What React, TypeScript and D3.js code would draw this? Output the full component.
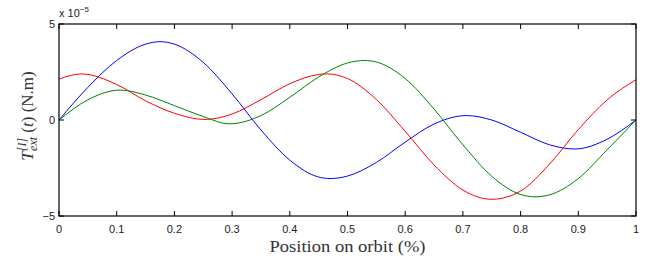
import React from "react";
import * as d3 from "d3";

const WIDTH = 653;
const HEIGHT = 263;
const MARGIN = { top: 24, right: 17, bottom: 47, left: 59 };

// values are in units of 1e-5 N.m
const blueX = [0, 0.05, 0.1, 0.15, 0.175, 0.2, 0.25, 0.3, 0.35, 0.4, 0.45, 0.47, 0.5, 0.55, 0.6, 0.65, 0.706, 0.75, 0.8, 0.85, 0.894, 0.95, 1];
const blueY = [0, 1.7, 3.1, 3.95, 4.08, 3.95, 3.0, 1.36, -0.52, -2.09, -2.97, -3.05, -2.92, -2.21, -1.15, -0.21, 0.23, 0.0, -0.64, -1.29, -1.51, -1.0, 0];

const redX = [0, 0.039, 0.1, 0.15, 0.2, 0.253, 0.3, 0.35, 0.4, 0.45, 0.465, 0.5, 0.55, 0.6, 0.65, 0.7, 0.75, 0.8, 0.85, 0.9, 0.95, 1];
const redY = [2.13, 2.4, 1.85, 1.0, 0.35, 0.03, 0.31, 1.06, 1.89, 2.37, 2.4, 2.16, 1.07, -0.59, -2.34, -3.65, -4.13, -3.7, -2.3, -0.5, 1.05, 2.1];

const greenX = [0, 0.05, 0.106, 0.15, 0.2, 0.25, 0.295, 0.35, 0.4, 0.45, 0.5, 0.53, 0.55, 0.6, 0.65, 0.7, 0.75, 0.8, 0.825, 0.85, 0.9, 0.95, 1];
const greenY = [0, 1.05, 1.56, 1.3, 0.75, 0.18, -0.2, 0.23, 1.18, 2.24, 2.97, 3.1, 3.02, 2.16, 0.57, -1.29, -2.93, -3.88, -4.0, -3.9, -3.05, -1.55, 0];

const xTicks = [0, 0.1, 0.2, 0.3, 0.4, 0.5, 0.6, 0.7, 0.8, 0.9, 1];
const xTickLabels = ["0", "0.1", "0.2", "0.3", "0.4", "0.5", "0.6", "0.7", "0.8", "0.9", "1"];
const yTicks = [-5, 0, 5];
const yTickLabels = ["\u22125", "0", "5"];

const series = [
  { xs: blueX, ys: blueY, color: "#0000ff" },
  { xs: redX, ys: redY, color: "#ff0000" },
  { xs: greenX, ys: greenY, color: "#008000" },
];

const SANS = "'Liberation Sans', Arial, sans-serif";
const SERIF = "'Liberation Serif', 'Times New Roman', Times, serif";

export default function App() {
  const w = WIDTH - MARGIN.left - MARGIN.right;
  const h = HEIGHT - MARGIN.top - MARGIN.bottom;

  const xScale = d3.scaleLinear().domain([0, 1]).range([0, w]);
  const yScale = d3.scaleLinear().domain([-5, 5]).range([h, 0]);

  const line = d3
    .line<[number, number]>()
    .x((d) => xScale(d[0]))
    .y((d) => yScale(d[1]))
    .curve(d3.curveMonotoneX);

  return (
    <svg
      width={WIDTH}
      height={HEIGHT}
      style={{ position: "fixed", left: 0, top: 0, background: "#fff" }}
    >
      <g transform={`translate(${MARGIN.left}, ${MARGIN.top})`}>
        {/* lines */}
        {series.map((s, i) => (
          <path
            key={i}
            d={line(s.xs.map((x, j) => [x, s.ys[j]] as [number, number])) || ""}
            fill="none"
            stroke={s.color}
            strokeWidth={1}
          />
        ))}

        {/* frame */}
        <rect x={0} y={0} width={w} height={h} fill="none" stroke="#000" strokeWidth={1.2} />

        {/* x ticks top & bottom */}
        {xTicks.map((t, i) => (
          <g key={i}>
            <line x1={xScale(t)} x2={xScale(t)} y1={h} y2={h - 5} stroke="#000" />
            <line x1={xScale(t)} x2={xScale(t)} y1={0} y2={5} stroke="#000" />
            <text
              x={xScale(t)}
              y={h + 17}
              textAnchor="middle"
              fontFamily={SANS}
              fontSize={11}
              fill="#222"
            >
              {xTickLabels[i]}
            </text>
          </g>
        ))}

        {/* y ticks left & right */}
        {yTicks.map((t, i) => (
          <g key={i}>
            <line x1={0} x2={5} y1={yScale(t)} y2={yScale(t)} stroke="#000" />
            <line x1={w} x2={w - 5} y1={yScale(t)} y2={yScale(t)} stroke="#000" />
            <text
              x={-4}
              y={yScale(t) + 4}
              textAnchor="end"
              fontFamily={SANS}
              fontSize={11}
              fill="#222"
            >
              {yTickLabels[i]}
            </text>
          </g>
        ))}

        {/* exponent */}
        <text x={0} y={-7} fontFamily={SANS} fontSize={11} fill="#222">
          x 10
          <tspan dy={-5} fontSize={8}>
            {"\u22125"}
          </tspan>
        </text>

        {/* x label */}
        <text
          x={w / 2}
          y={h + 36}
          textAnchor="middle"
          fontFamily={SERIF}
          fontSize={17}
          textLength={156}
          lengthAdjust="spacingAndGlyphs"
          fill="#333"
        >
          Position on orbit (%)
        </text>
      </g>

      {/* y label */}
      <g transform={`translate(33, ${MARGIN.top + 92}) rotate(-90)`}>
        <text x={0} y={0} textAnchor="middle" fontFamily={SERIF} fontSize={17} fill="#333">
          <tspan fontStyle="italic">T</tspan>
          <tspan fontStyle="italic" fontSize={12} dy={-7}>
            [I]
          </tspan>
          <tspan fontStyle="italic" fontSize={12} dx={-13} dy={11}>
            ext
          </tspan>
          <tspan dy={-4}>{" ("}</tspan>
          <tspan fontStyle="italic">t</tspan>
          <tspan>{")  (N.m)"}</tspan>
        </text>
      </g>
    </svg>
  );
}
